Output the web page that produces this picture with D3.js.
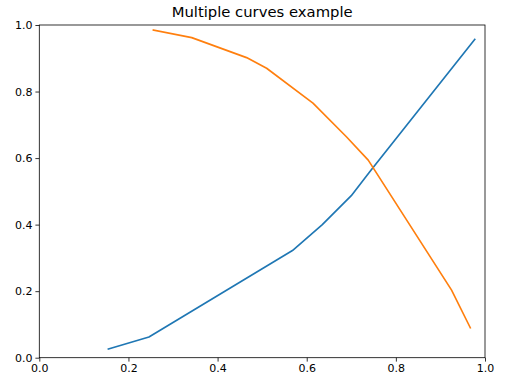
<!DOCTYPE html>
<html><head><meta charset="utf-8">
<script src="https://cdn.jsdelivr.net/npm/d3@7"></script>
<style>body{margin:0;background:#fff}svg{display:block}text{font-family:"DejaVu Sans",sans-serif}</style>
</head><body>
<script>
const blueX = [0.155, 0.246, 0.568, 0.635, 0.700, 0.741, 0.977];
const blueY = [0.026, 0.062, 0.322, 0.400, 0.487, 0.558, 0.957];
const orangeX = [0.256, 0.342, 0.465, 0.510, 0.614, 0.689, 0.738, 0.925, 0.967];
const orangeY = [0.985, 0.962, 0.902, 0.870, 0.765, 0.664, 0.594, 0.203, 0.090];
const xTicks = [0.0, 0.2, 0.4, 0.6, 0.8, 1.0];
const yTicks = [0.0, 0.2, 0.4, 0.6, 0.8, 1.0];
const title = "Multiple curves example";

const W = 509, H = 391;
const m = {l: 39.3, r: 509 - 485, t: 25, b: 391 - 357.7};
const svg = d3.select("body").append("svg").attr("width", W).attr("height", H);
const x = d3.scaleLinear().domain([0, 1]).range([m.l, W - m.r]);
const y = d3.scaleLinear().domain([0, 1]).range([H - m.b, m.t]);

const line = d3.line().x(d => x(d[0])).y(d => y(d[1]));
const series = [
  {xs: blueX, ys: blueY, color: "#1f77b4"},
  {xs: orangeX, ys: orangeY, color: "#ff7f0e"}
];
series.forEach(s => {
  svg.append("path").datum(s.xs.map((v, i) => [v, s.ys[i]]))
    .attr("d", line).attr("fill", "none").attr("stroke", s.color)
    .attr("stroke-width", 1.66).attr("stroke-linejoin", "round").attr("stroke-linecap", "square");
});

const fmt = d3.format(".1f");
const gx = svg.append("g").attr("transform", `translate(0,${H - m.b})`)
  .call(d3.axisBottom(x).tickValues(xTicks).tickFormat(fmt).tickSize(3.9).tickPadding(2.8));
const gy = svg.append("g").attr("transform", `translate(${m.l},0)`)
  .call(d3.axisLeft(y).tickValues(yTicks).tickFormat(fmt).tickSize(3.9).tickPadding(2.8));
[gx, gy].forEach(g => {
  g.select(".domain").remove();
  g.selectAll(".tick line").attr("stroke", "#000").attr("stroke-width", 0.8);
  g.selectAll(".tick text").attr("font-size", 11).attr("fill", "#000")
    .attr("font-family", "DejaVu Sans");
});

svg.append("rect").attr("x", x(0)).attr("y", y(1))
  .attr("width", x(1) - x(0)).attr("height", y(0) - y(1))
  .attr("fill", "none").attr("stroke", "#000").attr("stroke-width", 0.8);

svg.append("text").attr("x", (x(0) + x(1)) / 2).attr("y", 17.3)
  .attr("text-anchor", "middle").attr("font-size", 14.8).attr("fill", "#000").text(title);
</script>
</body></html>
